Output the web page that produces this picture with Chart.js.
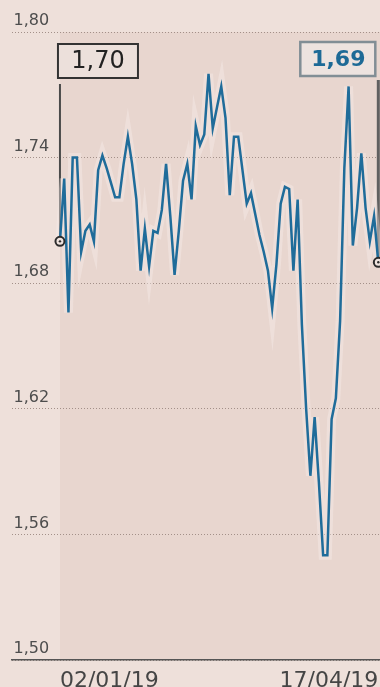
<!DOCTYPE html>
<html>
<head>
<meta charset="utf-8">
<script src="https://cdn.jsdelivr.net/npm/chart.js@4.4.1/dist/chart.umd.min.js"></script>
<style>
  html, body {
    margin: 0;
    padding: 0;
    background: #eee0da;
    overflow: hidden;
  }
  #wrap {
    position: relative;
    width: 380px;
    height: 702px;
  }
</style>
</head>
<body>
<div id="wrap"><canvas id="price-chart"></canvas></div>
<script>
// daily closes, 02/01/19 .. 17/04/19 (business days)
const prices = [
  1.700, 1.730, 1.666, 1.740, 1.740, 1.695, 1.705, 1.708, 1.700, 1.734,
  1.741, 1.735, 1.728, 1.721, 1.721, 1.737, 1.750, 1.737, 1.720, 1.686,
  1.706, 1.688, 1.705, 1.704, 1.715, 1.737, 1.712, 1.684, 1.705, 1.729,
  1.737, 1.720, 1.755, 1.746, 1.751, 1.780, 1.754, 1.764, 1.774, 1.759,
  1.722, 1.750, 1.750, 1.734, 1.718, 1.723, 1.713, 1.703, 1.695, 1.686,
  1.668, 1.689, 1.718, 1.726, 1.725, 1.686, 1.720, 1.660, 1.620, 1.588,
  1.616, 1.585, 1.550, 1.550, 1.615, 1.625, 1.662, 1.735, 1.774, 1.698,
  1.716, 1.742, 1.716, 1.700, 1.712, 1.690,
];
const yTicks = [1.50, 1.56, 1.62, 1.68, 1.74, 1.80];
const xTickLabels = ["02/01/19", "17/04/19"];
const xTickIndex = [0, prices.length - 1];

const FONT = "'DejaVu Sans', 'Liberation Sans', sans-serif";
const LINE_BLUE = "#1f6c9a";
const lastIdx = prices.length - 1;
const fmt = (v) => v.toFixed(2).replace(".", ",");

const points = prices.map((v, i) => ({ x: i, y: v }));

// plot background starts at the first data point
const plotBg = {
  id: "plotBg",
  beforeDraw(chart) {
    const { ctx, chartArea, scales } = chart;
    const x0 = scales.x.getPixelForValue(0);
    ctx.save();
    ctx.fillStyle = "#e8d6cf";
    ctx.fillRect(x0, chartArea.top, chartArea.right - x0, chartArea.bottom - chartArea.top);
    ctx.restore();
  },
};

// start / end value callouts
const callouts = {
  id: "callouts",
  beforeDatasetsDraw(chart) {
    const { ctx, chartArea } = chart;
    const pts = chart.getDatasetMeta(0).data;
    const first = pts[0];
    const last = pts[lastIdx];
    ctx.save();
    ctx.strokeStyle = "#4a4a4a";
    ctx.lineWidth = 2;
    ctx.beginPath();
    ctx.moveTo(first.x, chartArea.top + 52);
    ctx.lineTo(first.x, first.y - 5);
    ctx.stroke();
    ctx.strokeStyle = "#606060";
    ctx.lineWidth = 3;
    ctx.beginPath();
    ctx.moveTo(last.x, chartArea.top + 48);
    ctx.lineTo(last.x, last.y - 5);
    ctx.stroke();
    ctx.restore();
  },
  afterDatasetsDraw(chart) {
    const { ctx, chartArea } = chart;
    const pts = chart.getDatasetMeta(0).data;
    const first = pts[0];
    const last = pts[lastIdx];
    ctx.save();

    // inner dots of the end markers
    ctx.fillStyle = "#2b2b2b";
    [first, last].forEach((p) => {
      ctx.beginPath();
      ctx.arc(p.x, p.y, 1.2, 0, Math.PI * 2);
      ctx.fill();
    });

    // left box
    let bx = first.x - 2;
    let by = chartArea.top + 12;
    ctx.fillStyle = "#ece0db";
    ctx.fillRect(bx, by, 80, 34);
    ctx.strokeStyle = "#333";
    ctx.lineWidth = 2;
    ctx.strokeRect(bx, by, 80, 34);
    ctx.fillStyle = "#222";
    ctx.font = `24px ${FONT}`;
    ctx.textAlign = "center";
    ctx.textBaseline = "middle";
    ctx.fillText(fmt(prices[0]), bx + 40, by + 18);

    // right box
    bx = last.x - 78;
    by = chartArea.top + 10;
    ctx.fillStyle = "#ede3df";
    ctx.fillRect(bx, by, 75, 34);
    ctx.strokeStyle = "#818e95";
    ctx.lineWidth = 2.5;
    ctx.strokeRect(bx, by, 75, 34);
    ctx.fillStyle = "#1d6a96";
    ctx.font = `bold 22px ${FONT}`;
    ctx.fillText(fmt(prices[lastIdx]), bx + 38, by + 18);

    ctx.restore();
  },
};

new Chart(document.getElementById("price-chart"), {
  type: "line",
  data: {
    datasets: [
      {
        label: "Price",
        data: points,
        borderColor: LINE_BLUE,
        borderWidth: 2.5,
        tension: 0,
        fill: false,
        clip: false,
        pointRadius: (ctx) => (ctx.dataIndex === 0 || ctx.dataIndex === lastIdx ? 4.5 : 0),
        pointBackgroundColor: "#efe3de",
        pointBorderColor: "#2b2b2b",
        pointBorderWidth: 2,
      },
      {
        label: "glow",
        data: points,
        borderColor: "rgba(248, 238, 234, 0.4)",
        borderWidth: 9,
        tension: 0,
        fill: false,
        pointRadius: 0,
      },
    ],
  },
  options: {
    responsive: true,
    maintainAspectRatio: false,
    animation: false,
    layout: {
      autoPadding: false,
      padding: { top: 32, left: 9, right: 0, bottom: 0 },
    },
    scales: {
      x: {
        type: "linear",
        min: -11.3,
        max: 75.4,
        afterBuildTicks: (axis) => {
          axis.ticks = xTickIndex.map((v) => ({ value: v }));
        },
        grid: { display: false, drawTicks: false },
        border: { display: true, color: "#555", width: 1.5 },
        ticks: {
          autoSkip: false,
          maxRotation: 0,
          align: "inner",
          padding: 1,
          color: "#454545",
          font: { family: FONT, size: 22, lineHeight: "40px" },
          callback: (value, index) => xTickLabels[index],
        },
      },
      y: {
        min: 1.5,
        max: 1.8,
        afterBuildTicks: (axis) => {
          axis.ticks = yTicks.map((v) => ({ value: v }));
        },
        grid: { color: "#a39089", lineWidth: 1, drawTicks: false },
        border: { display: false, dash: [1, 2] },
        ticks: {
          mirror: true,
          padding: 1.5,
          labelOffset: -11,
          color: "#4d4d4d",
          font: { family: FONT, size: 16 },
          callback: (value) => fmt(value),
        },
      },
    },
    plugins: {
      legend: { display: false },
      tooltip: { enabled: false },
    },
  },
  plugins: [plotBg, callouts],
});
</script>
</body>
</html>
